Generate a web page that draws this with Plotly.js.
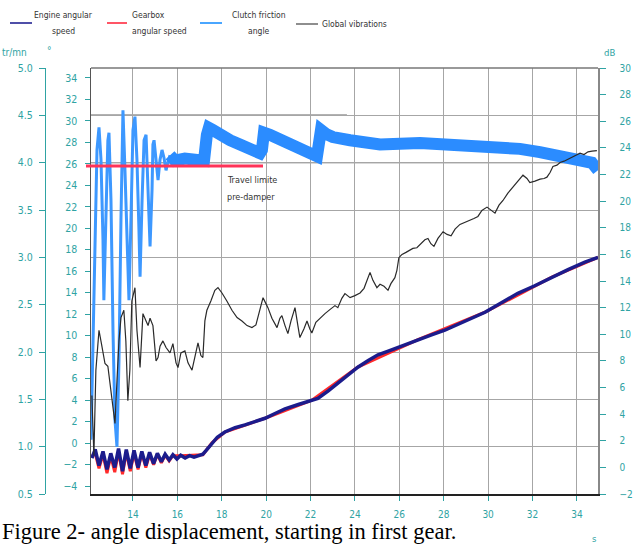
<!DOCTYPE html>
<html><head><meta charset="utf-8">
<script src="https://cdn.plot.ly/plotly-3.0.1.min.js"></script>
<style>html,body{margin:0;padding:0;background:#fff;}#chart{width:636px;height:544px;}</style>
</head><body><div id="chart"></div>
<script>
// ---------------- DATA ----------------
const xTicks = [14,16,18,20,22,24,26,28,30,32,34];
const degTicks = [-4,-2,0,2,4,6,8,10,12,14,16,18,20,22,24,26,28,30,32,34];
const dbTicks = [-2,0,2,4,6,8,10,12,14,16,18,20,22,24,26,28,30];
const speedTicks = [0.5,1.0,1.5,2.0,2.5,3.0,3.5,4.0,4.5,5.0];

// Engine angular speed (x1000 tr/mn)
const engineTime = [12.15,12.30,12.47,12.65,12.83,13.00,13.18,13.35,13.53,13.70,
  13.88,14.05,14.23,14.40,14.58,14.75,14.93,15.10,15.28,15.45,
  15.63,15.80,15.98,16.15,16.35,16.55,16.75,16.95,17.15,17.30,
  17.45,17.56,17.80,18.14,18.60,19.05,19.50,19.95,20.40,20.85,
  21.45,22.06,22.33,22.80,23.23,23.70,24.13,24.60,25.04,25.50,
  25.94,26.40,26.84,27.45,28.05,28.95,29.86,30.60,31.34,32.10,
  32.87,33.60,34.36,34.95];
const engineSpeed = [0.88,0.97,0.80,0.95,0.76,0.93,0.78,0.98,0.74,0.97,
  0.77,0.96,0.78,0.95,0.80,0.94,0.82,0.93,0.84,0.92,
  0.86,0.915,0.87,0.91,0.88,0.905,0.89,0.905,0.92,0.96,
  1.00,1.04,1.10,1.155,1.20,1.23,1.265,1.30,1.35,1.40,
  1.445,1.49,1.51,1.59,1.67,1.76,1.84,1.91,1.97,2.01,
  2.05,2.09,2.13,2.18,2.23,2.32,2.42,2.52,2.62,2.70,
  2.79,2.87,2.95,3.00];

// Gearbox angular speed (x1000 tr/mn)
const gearboxTime = [12.15,12.30,12.47,12.65,12.83,13.00,13.18,13.35,13.53,13.70,
  13.88,14.05,14.23,14.40,14.58,14.75,14.93,15.10,15.28,15.45,
  15.63,15.80,16.15,17.15,17.56,18.14,19.95,22.06,24.13,26.84,
  29.86,32.87,34.95];
const gearboxSpeed = [0.90,0.93,0.77,0.92,0.72,0.90,0.73,0.95,0.71,0.94,
  0.74,0.93,0.76,0.93,0.78,0.92,0.81,0.92,0.83,0.91,
  0.85,0.905,0.905,0.915,1.04,1.155,1.30,1.49,1.84,2.13,
  2.42,2.79,3.00];

// Clutch friction angle (degrees)
const clutchTime = [12.11,12.24,12.38,12.47,12.56,12.65,12.69,12.78,12.87,12.92,
  13.01,13.10,13.19,13.28,13.37,13.46,13.55,13.64,13.73,13.82,
  13.91,14.00,14.09,14.18,14.27,14.32,14.41,14.50,14.59,14.68,
  14.77,14.86,14.90,14.95,15.04,15.13,15.22,15.31,15.40,15.49,
  15.58,15.67,15.89,16.34,16.79,17.20,17.33,17.42,17.60,17.92,
  18.37,18.82,19.27,19.72,19.81,19.90,20.17,20.62,21.07,21.52,
  21.97,22.29,22.38,22.47,22.69,23.00,23.78,25.13,26.93,29.05,
  30.53,31.43,32.33,33.24,33.91,34.36,34.68,34.95];
const clutchAngle = [0.3,13.3,27.3,29.4,26.4,18.9,13.3,20.8,28.2,28.9,
  22.6,10.5,2.15,-0.35,7.7,20.8,31.0,25.4,18.0,13.3,
  20.8,29.15,30.4,26.4,19.85,15.5,22.6,28.2,28.7,23.6,
  18.3,23.6,27.8,28.2,26.4,24.5,26.4,27.3,26.55,25.4,
  26.2,26.8,26.3,26.5,26.4,26.3,28.7,29.35,29.15,28.7,
  28.2,27.8,27.4,27.0,27.3,28.9,28.7,28.2,27.8,27.3,
  27.0,26.7,28.2,29.15,28.8,28.5,28.2,27.8,27.95,27.8,
  27.6,27.4,27.1,26.7,26.4,26.2,26.1,25.4];

// Global vibrations (dB)
const vibTime = [12.15,12.24,12.33,12.47,12.60,12.74,12.87,13.01,13.10,13.19,
  13.28,13.37,13.46,13.59,13.68,13.77,13.86,13.95,14.09,14.18,
  14.32,14.45,14.59,14.68,14.77,14.90,15.04,15.13,15.22,15.35,
  15.49,15.67,15.80,15.94,16.03,16.16,16.34,16.48,16.66,16.79,
  16.93,17.06,17.15,17.24,17.33,17.51,17.69,17.83,18.01,18.23,
  18.46,18.69,18.91,19.14,19.36,19.54,19.72,19.86,19.99,20.08,
  20.26,20.49,20.62,20.71,20.85,20.98,21.12,21.30,21.43,21.52,
  21.70,21.84,21.97,22.06,22.24,22.42,22.65,22.87,23.10,23.23,
  23.41,23.55,23.78,24.00,24.23,24.41,24.54,24.68,24.81,24.99,
  25.13,25.31,25.49,25.62,25.80,25.89,25.98,26.12,26.30,26.48,
  26.61,26.79,26.97,27.15,27.29,27.42,27.56,27.74,27.97,28.15,
  28.33,28.51,28.73,28.96,29.18,29.36,29.54,29.72,29.95,30.13,
  30.31,30.49,30.67,30.89,31.12,31.34,31.57,31.75,31.88,32.11,
  32.34,32.52,32.65,32.79,32.92,33.10,33.24,33.42,33.55,33.78,
  33.96,34.14,34.32,34.50,34.68,34.90];
const vibLevel = [5.4,0.9,7.3,10.3,9.1,7.8,7.6,5.5,4.25,3.3,
  6.5,9.5,11.25,11.8,9.5,5.0,7.3,12.5,13.5,10.3,
  7.5,11.55,11.0,10.65,11.2,10.65,8.0,8.25,9.1,9.5,
  9.0,8.6,9.3,7.85,7.5,8.6,8.75,7.85,7.3,8.4,
  9.35,8.4,8.25,11.0,11.8,12.5,13.3,13.5,13.1,12.5,
  11.8,11.25,11.0,10.65,10.5,10.7,11.8,12.75,12.3,12.0,
  11.2,10.5,11.2,11.4,10.65,10.05,11.0,12.0,10.65,9.75,
  10.4,11.0,10.4,10.1,10.9,11.2,11.55,11.85,12.15,12.0,
  12.7,13.05,12.75,12.9,13.1,13.45,14.05,14.65,14.05,13.5,
  13.75,13.6,13.3,13.8,14.25,14.8,15.75,16.0,16.15,16.3,
  16.45,16.5,16.8,17.1,17.2,16.8,16.6,17.2,17.7,17.5,
  17.4,17.9,18.25,18.4,18.55,18.7,18.85,19.3,19.55,19.3,
  19.1,19.7,20.05,20.6,21.05,21.55,21.95,21.7,21.4,21.5,
  21.65,21.7,21.8,22.15,22.6,22.7,22.9,23.0,23.1,23.3,
  23.45,23.6,23.5,23.7,23.75,23.8];

// Reference levels
const preDamperLimit = 25.8;   // degrees
const bandStart = 15.67;       // s, clutch settles into a dense band

// ---------------- STYLE / LAYOUT ----------------
const W = 636, H = 544;
const L = 91, R = 598, T = 68, B = 494;
const px = v => v / W;
const py = v => 1 - v / H;
const TEAL = '#2fa3a3';
const NARROW = '"Liberation Sans Narrow","Arial Narrow","DejaVu Sans Condensed","Liberation Sans",Arial,sans-serif';

const thinT = [], thinA = [], bandT = [], bandA = [];
clutchTime.forEach((t, i) => {
  if (t <= bandStart) { thinT.push(t); thinA.push(clutchAngle[i]); }
  if (t >= bandStart) { bandT.push(t); bandA.push(clutchAngle[i]); }
});

const traces = [
  {x: thinT, y: thinA, yaxis: 'y2', mode: 'lines', name: 'Clutch friction angle',
   line: {color: '#3d98ff', width: 3}},
  {x: bandT, y: bandA, yaxis: 'y2', mode: 'lines', name: 'Clutch friction angle', showlegend: false,
   line: {color: '#2b8cff', width: 12}},
  {x: vibTime, y: vibLevel, yaxis: 'y3', mode: 'lines', name: 'Global vibrations',
   line: {color: '#2a2a2a', width: 1.2}},
  {x: gearboxTime, y: gearboxSpeed, yaxis: 'y', mode: 'lines', name: 'Gearbox angular speed',
   line: {color: '#ff2a2a', width: 3}},
  {x: engineTime, y: engineSpeed, yaxis: 'y', mode: 'lines', name: 'Engine angular speed',
   line: {color: '#1c1c8c', width: 3.5}}
];

function txt(text, x, y, o) {
  o = o || {};
  return {xref: 'paper', yref: 'paper', x: px(x), y: py(y), text: text, showarrow: false,
    xanchor: o.xa || 'left', yanchor: 'middle', align: o.align || 'left',
    font: {family: o.family || NARROW, size: o.size || 9, color: o.color || '#333'}};
}
function pline(x0, x1, y, color, width) {
  return {type: 'line', xref: 'paper', yref: 'paper', x0: px(x0), x1: px(x1), y0: py(y), y1: py(y),
    line: {color: color, width: width}};
}

const tickFont = {family: NARROW, size: 10.5, color: TEAL};

const layout = {
  width: W, height: H,
  margin: {l: 0, r: 0, t: 0, b: 0},
  paper_bgcolor: '#ffffff', plot_bgcolor: '#ffffff',
  showlegend: false,
  xaxis: {domain: [px(L), px(R)], range: [12.11, 34.95], tickvals: xTicks,
    ticks: 'outside', ticklen: 5, tickcolor: TEAL, tickwidth: 1,
    tickfont: {family: NARROW, size: 10, color: TEAL}, ticklabelstandoff: 5,
    showgrid: true, gridcolor: '#a6a6a6', gridwidth: 1,
    showline: true, linecolor: '#222', linewidth: 2, zeroline: false, anchor: 'y'},
  yaxis: {domain: [py(B), py(T)], range: [0.5, 5.0], tickvals: speedTicks, tickformat: '.1f',
    anchor: 'free', position: px(45), side: 'left',
    showline: true, linecolor: TEAL, linewidth: 1,
    ticks: 'outside', ticklen: 6, tickcolor: TEAL, tickfont: tickFont, ticklabelstandoff: 4,
    showgrid: true, gridcolor: '#a6a6a6', gridwidth: 1, zeroline: false},
  yaxis2: {overlaying: 'y', anchor: 'x', side: 'left', range: [-4.745, 34.93], tickvals: degTicks,
    ticks: 'outside', ticklen: 5, tickcolor: TEAL, tickfont: tickFont, ticklabelstandoff: 5,
    showline: true, linecolor: '#555', linewidth: 1.5, showgrid: false, zeroline: false},
  yaxis3: {overlaying: 'y', anchor: 'x', side: 'right', range: [-2, 30], tickvals: dbTicks,
    ticks: 'outside', ticklen: 6, tickcolor: TEAL, tickfont: {family: NARROW, size: 10, color: TEAL},
    ticklabelstandoff: 12,
    showline: true, linecolor: '#888', linewidth: 1.5, showgrid: false, zeroline: false},
  shapes: [
    pline(L, R, T, '#777', 1.5),
    {type: 'line', xref: 'x', yref: 'y', x0: 12.11, x1: 23.64, y0: 4.5, y1: 4.5, layer: 'below',
     line: {color: '#666', width: 1.5}},
    {type: 'line', xref: 'x', yref: 'y', x0: 12.11, x1: 34.95, y0: 4.0, y1: 4.0, layer: 'below',
     line: {color: '#666', width: 1.3}},
    {type: 'line', xref: 'paper', yref: 'y2', x0: px(86), x1: px(263), y0: preDamperLimit, y1: preDamperLimit,
     line: {color: '#ff3358', width: 3}},
    pline(10, 32, 23, '#4f4fa8', 2),
    pline(107, 127, 23, '#ff5566', 2),
    pline(200, 222, 23, '#4aa6ff', 2),
    pline(296, 318, 24, '#444', 1.2)
  ],
  annotations: [
    txt('Engine angular', 63, 15, {xa: 'center', size: 8.5}),
    txt('speed', 63, 31, {xa: 'center', size: 8.5}),
    txt('Gearbox', 130, 15, {size: 8.5}),
    txt('angular speed', 130, 31, {size: 8.5}),
    txt('Clutch friction', 259, 15, {xa: 'center', size: 8.5}),
    txt('angle', 259, 31, {xa: 'center', size: 8.5}),
    txt('Global vibrations', 320, 24, {size: 8.5}),
    txt('tr/mn', 0, 53, {color: TEAL, size: 10}),
    txt('°', 45, 50, {color: TEAL, size: 10}),
    txt('dB', 602, 53, {color: TEAL, size: 9.5}),
    txt('s', 590, 538, {color: TEAL, size: 9.5}),
    txt('Travel limite', 225, 180),
    txt('pre-damper', 225, 197),
    txt('Figure 2- angle displacement, starting in first gear.', 0, 531,
      {family: '"Liberation Serif","Times New Roman",serif', size: 22.5, color: '#000'})
  ]
};

Plotly.newPlot('chart', traces, layout, {staticPlot: true, displayModeBar: false});
</script>
</body></html>
